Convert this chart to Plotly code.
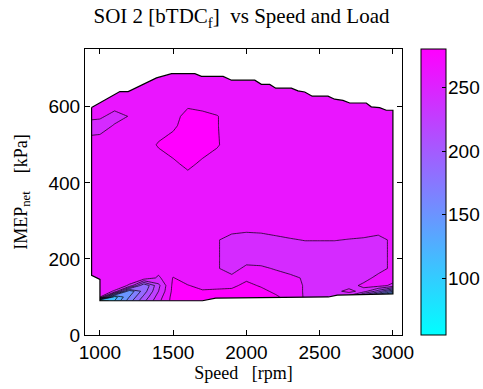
import plotly.graph_objects as go

# ---------------- data ----------------
speed = [940, 1000, 1100, 1200, 1300, 1400, 1500, 1600, 1700, 1800, 1900,
         2000, 2100, 2200, 2300, 2400, 2500, 2600, 2700, 2800, 2900, 3000]
load = [90, 100, 115, 130, 150, 175, 200, 225, 250, 275,
        400, 450, 500, 550, 575, 600, 650, 700]

# SOI 2 [bTDC_f], one row per load value, one column per speed value
soi2 = [
    [70, 70, 120, 170, 215, 255, 288, 290, 290, 290, 290, 290, 290, 283, 272, 258, 250, 258, 230, 170, 120, 70],
    [262, 262, 110, 160, 205, 250, 288, 290, 290, 290, 290, 290, 290, 283, 272, 258, 250, 258, 230, 170, 120, 70],
    [270, 270, 258, 145, 190, 240, 286, 285, 282, 283, 284, 290, 285, 276, 270, 258, 250, 252, 268, 250, 210, 160],
    [270, 270, 270, 258, 180, 235, 285, 281, 274, 275, 276, 285, 278, 270, 270, 258, 250, 250, 250, 266, 268, 255],
    [270, 270, 270, 270, 275, 256, 281, 270, 270, 270, 266, 276, 272, 270, 266, 257, 250, 250, 250, 250, 268, 270],
    [270, 270, 270, 270, 270, 270, 270, 270, 270, 262, 250, 266, 264, 258, 250, 250, 250, 250, 250, 250, 250, 266],
    [270, 270, 270, 270, 270, 270, 270, 270, 270, 262, 250, 250, 250, 250, 250, 250, 250, 250, 250, 250, 250, 266],
    [270, 270, 270, 270, 270, 270, 270, 270, 270, 262, 250, 250, 250, 250, 250, 250, 250, 250, 250, 250, 250, 266],
    [270, 270, 270, 270, 270, 270, 270, 270, 270, 262, 250, 250, 250, 252, 258, 261, 261, 261, 259, 257, 250, 266],
    [270, 270, 270, 270, 270, 270, 270, 270, 270, 270, 266, 262.5, 264, 270, 270, 270, 270, 270, 270, 270, 270, 270],
    [270, 270, 270, 270, 270, 270, 270, 270, 270, 270, 270, 270, 270, 270, 270, 270, 270, 270, 270, 270, 270, 270],
    [270, 270, 270, 270, 270, 270, 276, 285, 276, 270, 270, 270, 270, 270, 270, 270, 270, 270, 270, 270, 270, 270],
    [270, 272, 270, 270, 270, 282, 290, 292, 290, 282, 270, 270, 270, 270, 270, 270, 270, 270, 270, 270, 270, 270],
    [250, 250, 262, 270, 270, 270, 276, 290, 290, 281, 270, 270, 270, 270, 270, 270, 270, 270, 270, 270, 270, 270],
    [266, 264, 252, 261, 270, 270, 275, 285, 285, 281, 270, 270, 270, 270, 270, 270, 270, 270, 270, 270, 270, 270],
    [270, 270, 266, 270, 270, 270, 270, 279, 276, 272, 270, 270, 270, 270, 270, 270, 270, 270, 270, 270, 270, 270],
    [270, 270, 270, 270, 270, 270, 270, 270, 270, 270, 270, 270, 270, 270, 270, 270, 270, 270, 270, 270, 270, 270],
    [270, 270, 270, 270, 270, 270, 270, 270, 270, 270, 270, 270, 270, 270, 270, 270, 270, 270, 270, 270, 270, 270],
]

# outline of the measured operating region (speed, load), clockwise from top-left
boundary_speed = [943, 1136, 1193, 1386, 1489, 1648, 1693, 1841, 1898, 2057, 2102, 2159,
                  2200, 2307, 2352, 2398, 2449, 2557, 2602, 2659, 2705, 2818, 2852, 2909,
                  2955, 3000, 3000, 2620, 2560, 1790, 1700, 1000, 1000, 943, 943]
boundary_load = [598, 640, 640, 676, 687, 687, 680, 680, 670, 670, 659, 659,
                 649, 649, 642, 639, 628, 628, 620, 617, 610, 610, 600, 598,
                 591, 591, 108, 105, 100, 97, 90, 90, 146, 157, 598]

level_start, level_end, level_step = 60, 280, 20
cbar_min, cbar_max = 56, 280
cbar_ticks = [100, 150, 200, 250]
x_range = [898, 3062]
y_range = [0, 752]
x_ticks = [1000, 1500, 2000, 2500, 3000]
y_ticks = [0, 200, 400, 600]

cool = [[0, "rgb(0,255,255)"], [1, "rgb(255,0,255)"]]

SANS = "Liberation Sans, Arial, sans-serif"
SERIF = "Liberation Serif, Times New Roman, serif"
CBAR_X = 1.06

fig = go.Figure()

fig.add_trace(go.Contour(
    x=speed, y=load, z=soi2,
    colorscale=cool,
    autocontour=False,
    contours=dict(start=level_start, end=level_end, size=level_step,
                  coloring="fill", showlines=True),
    line=dict(color="black", width=0.7, smoothing=0),
    showscale=False,
    hoverinfo="skip",
))

# white mask outside the operating region
mask_x = [x_range[0], x_range[1], x_range[1], x_range[0], x_range[0]] + boundary_speed + [x_range[0]]
mask_y = [y_range[0], y_range[0], y_range[1], y_range[1], y_range[0]] + boundary_load + [y_range[0]]
fig.add_trace(go.Scatter(
    x=mask_x, y=mask_y, mode="lines", fill="toself",
    fillcolor="white", line=dict(width=0, color="white"),
    hoverinfo="skip", showlegend=False,
))

# region outline
fig.add_trace(go.Scatter(
    x=boundary_speed, y=boundary_load, mode="lines",
    line=dict(color="black", width=1.2),
    hoverinfo="skip", showlegend=False,
))

# colour bar (continuous 'cool' map); labels added as annotations so the
# bar does not push the margins
fig.add_trace(go.Scatter(
    x=[speed[1]], y=[-100], mode="markers",
    marker=dict(size=1, color=[cbar_min], cmin=cbar_min, cmax=cbar_max,
                colorscale=cool, showscale=True,
                colorbar=dict(
                    x=CBAR_X, xanchor="left", xpad=0, y=0, yanchor="bottom",
                    len=1.0, lenmode="fraction", thickness=25, ypad=0,
                    outlinecolor="black", outlinewidth=1,
                    tickvals=cbar_ticks, ticks="inside", ticklen=4,
                    tickcolor="black", showticklabels=False,
                )),
    hoverinfo="skip", showlegend=False,
))

for v in cbar_ticks:
    fig.add_annotation(
        x=CBAR_X, xref="paper", xanchor="left", xshift=25,
        y=(v - cbar_min) / (cbar_max - cbar_min), yref="paper", yanchor="middle",
        text=str(v), showarrow=False,
        font=dict(family=SANS, size=19, color="black"),
    )

axis_common = dict(
    showline=True, linecolor="black", linewidth=1, mirror="ticks",
    ticks="inside", ticklen=5, tickcolor="black", showgrid=False,
    zeroline=False, tickfont=dict(family=SANS, size=19, color="black"),
)

fig.update_layout(
    width=483, height=389,
    margin=dict(l=85, r=81, t=49, b=52),
    paper_bgcolor="white", plot_bgcolor="white",
    showlegend=False,
    title=dict(text="SOI 2 [bTDC<sub>f</sub>]  vs Speed and Load",
               x=0.5, xref="container", xanchor="center",
               y=1 - 16 / 389, yref="container", yanchor="middle",
               font=dict(family=SERIF, size=21, color="black")),
    xaxis=dict(range=x_range, tickvals=x_ticks,
               title=dict(text="Speed   [rpm]", standoff=2,
                          font=dict(family=SERIF, size=18, color="black")),
               **axis_common),
    yaxis=dict(range=y_range, tickvals=y_ticks,
               title=dict(text="IMEP<sub>net</sub>    [kPa]", standoff=16,
                          font=dict(family=SERIF, size=18, color="black")),
               **axis_common),
)

fig.write_html("out.html", config={"displayModeBar": False},
               post_script="document.body.style.margin='0px';")
